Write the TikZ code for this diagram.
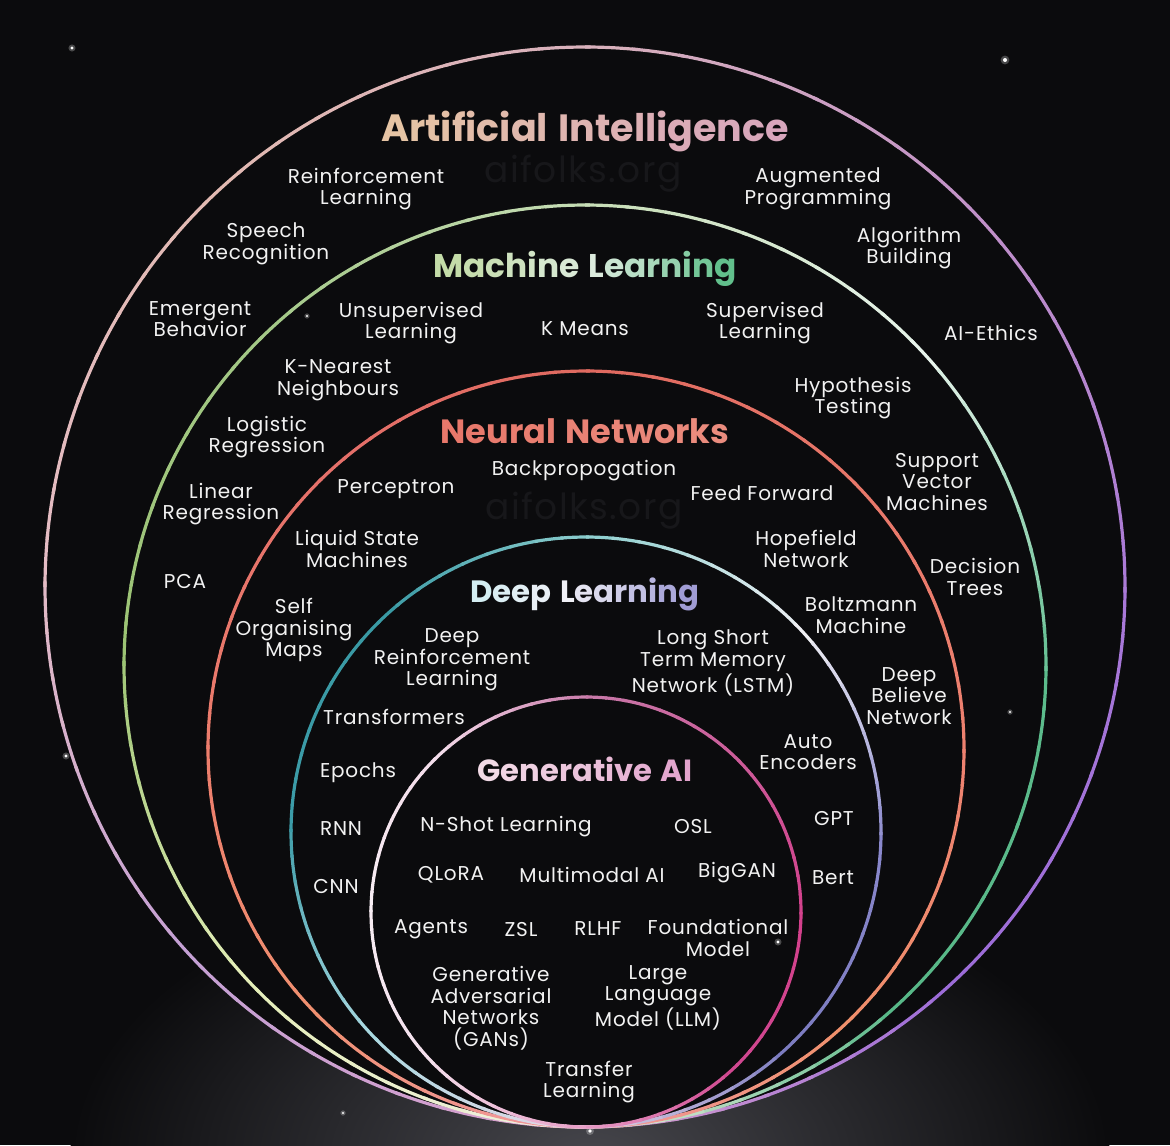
\documentclass[tikz,border=0pt]{standalone}
\usepackage{fontspec}
\setmainfont{Poppins}[LetterSpace=4]
\newfontfamily\titlefont{Poppins}

% ---------- colours ----------
\definecolor{bg}{HTML}{0B0B0D}
\definecolor{glow}{HTML}{46464C}
\definecolor{txt}{HTML}{F2F2F2}
\definecolor{wmark}{HTML}{17171A}
% title gradients
\definecolor{aiA}{HTML}{E6C4A4}\definecolor{aiB}{HTML}{D8A6BC}
\definecolor{mlA}{HTML}{C4DCA8}\definecolor{mlB}{HTML}{DCEBDD}\definecolor{mlC}{HTML}{62C08C}
\definecolor{nnA}{HTML}{E8786B}\definecolor{nnB}{HTML}{EA8C7E}
\definecolor{dlA}{HTML}{D4EEF2}\definecolor{dlB}{HTML}{F0F0F6}\definecolor{dlC}{HTML}{A09CD4}
\definecolor{gaA}{HTML}{F2DAE6}\definecolor{gaB}{HTML}{E2A2CC}
% ring colours at 0,45,...,315 degrees (screen angles, 90 = bottom)
\definecolor{ai0}{HTML}{A878D8}\definecolor{ai1}{HTML}{9C6CD8}\definecolor{ai2}{HTML}{D8A0CC}\definecolor{ai3}{HTML}{C4A0D4}
\definecolor{ai4}{HTML}{E4BCC4}\definecolor{ai5}{HTML}{E2BAB2}\definecolor{ai6}{HTML}{D8B0BC}\definecolor{ai7}{HTML}{C090C8}
\definecolor{ml0}{HTML}{5CBC8C}\definecolor{ml1}{HTML}{58B888}\definecolor{ml2}{HTML}{F0F0E0}\definecolor{ml3}{HTML}{E4EEB8}
\definecolor{ml4}{HTML}{9CC474}\definecolor{ml5}{HTML}{A4C888}\definecolor{ml6}{HTML}{C8DEB8}\definecolor{ml7}{HTML}{E8F4EC}
\definecolor{nn0}{HTML}{EE8270}\definecolor{nn1}{HTML}{F0906C}\definecolor{nn2}{HTML}{F098A0}\definecolor{nn3}{HTML}{F09070}
\definecolor{nn4}{HTML}{EC7C6C}\definecolor{nn5}{HTML}{E4706A}\definecolor{nn6}{HTML}{E06A60}\definecolor{nn7}{HTML}{E8786A}
\definecolor{dl0}{HTML}{8A88CC}\definecolor{dl1}{HTML}{7C7CC0}\definecolor{dl2}{HTML}{E8D8E8}\definecolor{dl3}{HTML}{A8D8E0}
\definecolor{dl4}{HTML}{3C9CA8}\definecolor{dl5}{HTML}{3A9AA4}\definecolor{dl6}{HTML}{90D0D0}\definecolor{dl7}{HTML}{F0F0F4}
\definecolor{ga0}{HTML}{D4408C}\definecolor{ga1}{HTML}{D04890}\definecolor{ga2}{HTML}{E8A0C8}\definecolor{ga3}{HTML}{F4E0EC}
\definecolor{ga4}{HTML}{F8EEF4}\definecolor{ga5}{HTML}{F4DCEA}\definecolor{ga6}{HTML}{C878A8}\definecolor{ga7}{HTML}{CC5A98}

% ---------- letter-by-letter colour gradient ----------
\ExplSyntaxOn
\tl_new:N \l_grad_tl
\tl_new:N \l_grad_col_tl
\int_new:N \l_grad_n_int
\int_new:N \l_grad_i_int
\cs_new_protected:Npn \__grad_space: { \skip_horizontal:n { 0.27em } }
\NewDocumentCommand \gradtext { m m m }
  {
    \tl_set:Nn \l_grad_tl {#3}
    \tl_replace_all:Nnn \l_grad_tl { ~ } { \__grad_space: }
    \int_set:Nn \l_grad_n_int { \tl_count:N \l_grad_tl }
    \int_zero:N \l_grad_i_int
    \tl_map_inline:Nn \l_grad_tl
      {
        \tl_set:Nx \l_grad_col_tl
          { #2 ! \int_eval:n { 100 * \l_grad_i_int / ( \l_grad_n_int - 1 ) } ! #1 }
        \textcolor { \l_grad_col_tl } { ##1 }
        \int_incr:N \l_grad_i_int
      }
  }
\ExplSyntaxOff

% one ring: centre x, centre y, radius, colour prefix
\newcommand\gradring[4]{%
  \foreach \ca/\cb [count=\k from 0] in {#40/#41,#41/#42,#42/#43,#43/#44,#44/#45,#45/#46,#46/#47,#47/#40}{%
    \foreach \j in {0,...,8}{%
      \pgfmathtruncatemacro\p{100-\j*100/9}%
      \pgfmathsetmacro\a{\k*45+\j*5}%
      \draw[ringline, draw=\ca!\p!\cb] ([shift={(#1,#2)}]\a:#3) arc[start angle=\a, end angle=\a+5.6, radius=#3];
    }%
  }%
}

\begin{document}
\begin{tikzpicture}[x=0.5pt, y=-0.5pt,
  ringline/.style={line width=1.6pt},
  lbl/.style={text=txt, font=\fontsize{10}{10.75}\selectfont, align=center, inner sep=0pt},
  ttl/.style={font=\titlefont\bfseries\fontsize{#1}{#1}\selectfont, inner sep=0pt},
  wm/.style={text=wmark, font=\fontsize{18}{20}\selectfont, inner sep=0pt},
  star/.style={fill=white}]

% background and bottom haze
\fill[bg] (0,0) rectangle (1170,1145);
\useasboundingbox (0,0) rectangle (1170,1145);
\shade[inner color=glow, outer color=bg] (590,1160) ellipse [x radius=520, y radius=300];
\fill[bg] (585,587) circle [radius=540];

% stars
\foreach \sx/\sy/\sr in {72/48/1.6, 1005/60/2, 1010/712/1.2, 66/756/1.6, 778/942/1.6, 590/1131/1.8, 343/1113/1.2, 307/316/1.2}{
  \fill[white, opacity=0.25] (\sx,\sy) circle [radius=\sr*2.2];
  \fill[star] (\sx,\sy) circle [radius=\sr];
}

% watermarks
\node[wm] (wm1) at (583,174) {aifolks.org};
\node[wm] (wm2) at (584,511) {aifolks.org};

% nested rings, all touching at the bottom
\gradring{585}{587}{540}{ai}
\gradring{585}{666}{461}{ml}
\gradring{586}{749}{378}{nn}
\gradring{586}{832}{295}{dl}
\gradring{586}{912}{215}{ga}

% ---------- Artificial Intelligence ----------
\node[ttl=19] (tai) at (585,132) {\gradtext{aiA}{aiB}{Artificial Intelligence}};
\node[lbl] (rl)  at (366,189) {Reinforcement\\Learning};
\node[lbl] (aug) at (818,189) {Augmented\\Programming};
\node[lbl] (sr)  at (266,244) {Speech\\Recognition};
\node[lbl] (alg) at (909,248) {Algorithm\\Building};
\node[lbl] (eb)  at (200,319) {Emergent\\Behavior};
\node[lbl] (eth) at (991,333) {AI-Ethics};

% ---------- Machine Learning ----------
\node[ttl=16.4] (tml) at (585,269) {\gradtext{mlA}{mlB}{Machine }\gradtext{mlB}{mlC}{Learning}};
\node[lbl] (ul)  at (411,323) {Unsupervised\\Learning};
\node[lbl] (km)  at (585,329) {K Means};
\node[lbl] (sl)  at (765,323) {Supervised\\Learning};
\node[lbl] (knn) at (338,380) {K-Nearest\\Neighbours};
\node[lbl] (ht)  at (853,398) {Hypothesis\\Testing};
\node[lbl] (lr)  at (267,437) {Logistic\\Regression};
\node[lbl] (svm) at (937,482) {Support\\Vector\\Machines};
\node[lbl] (lin) at (221,504) {Linear\\Regression};
\node[lbl] (pca) at (185,581) {PCA};
\node[lbl] (dt)  at (975,577) {Decision\\Trees};

% ---------- Neural Networks ----------
\node[ttl=16.8] (tnn) at (585,431) {\gradtext{nnA}{nnB}{Neural Networks}};
\node[lbl] (bp)  at (584,471) {Backpropogation};
\node[lbl] (per) at (396,489) {Perceptron};
\node[lbl] (ff)  at (762,493) {Feed Forward};
\node[lbl] (lsm) at (357,549) {Liquid State\\Machines};
\node[lbl] (hop) at (806,549) {Hopefield\\Network};
\node[lbl] (som) at (294,630) {Self\\Organising\\Maps};
\node[lbl] (bm)  at (861,615) {Boltzmann\\Machine};
\node[lbl] (dbn) at (909,696) {Deep\\Believe\\Network};

% ---------- Deep Learning ----------
\node[ttl=15.4] (tdl) at (585,594) {\gradtext{dlA}{dlB}{Deep }\gradtext{dlB}{dlC}{Learning}};
\node[lbl] (drl) at (452,660) {Deep\\Reinforcement\\Learning};
\node[lbl] (lstm) at (713,663) {Long Short\\Term Memory\\Network (LSTM)};
\node[lbl] (tr)  at (394,717) {Transformers};
\node[lbl] (ae)  at (808,752) {Auto\\Encoders};
\node[lbl] (ep)  at (358,773) {Epochs};
\node[lbl] (rnn) at (341,829) {RNN};
\node[lbl] (gpt) at (834,818) {GPT};
\node[lbl] (cnn) at (336,886) {CNN};
\node[lbl] (bert) at (833,878) {Bert};

% ---------- Generative AI ----------
\node[ttl=15.3] (tga) at (585,769) {\gradtext{gaA}{gaB}{Generative AI}};
\node[lbl] (nsl) at (506,827) {N-Shot Learning};
\node[lbl] (osl) at (693,826) {OSL};
\node[lbl] (qlo) at (451,875) {QLoRA};
\node[lbl] (mm)  at (592,875) {Multimodal AI};
\node[lbl] (big) at (737,873) {BigGAN};
\node[lbl] (ag)  at (431,929) {Agents};
\node[lbl] (zsl) at (521,929) {ZSL};
\node[lbl] (rlhf) at (598,929) {RLHF};
\node[lbl] (fm)  at (718,938) {Foundational\\Model};
\node[lbl] (gan) at (491,1008) {Generative\\Adversarial\\Networks\\(GANs)};
\node[lbl] (llm) at (658,998) {Large\\Language\\Model (LLM)};
\node[lbl] (tl)  at (589,1082) {Transfer\\Learning};
\end{tikzpicture}
\end{document}
